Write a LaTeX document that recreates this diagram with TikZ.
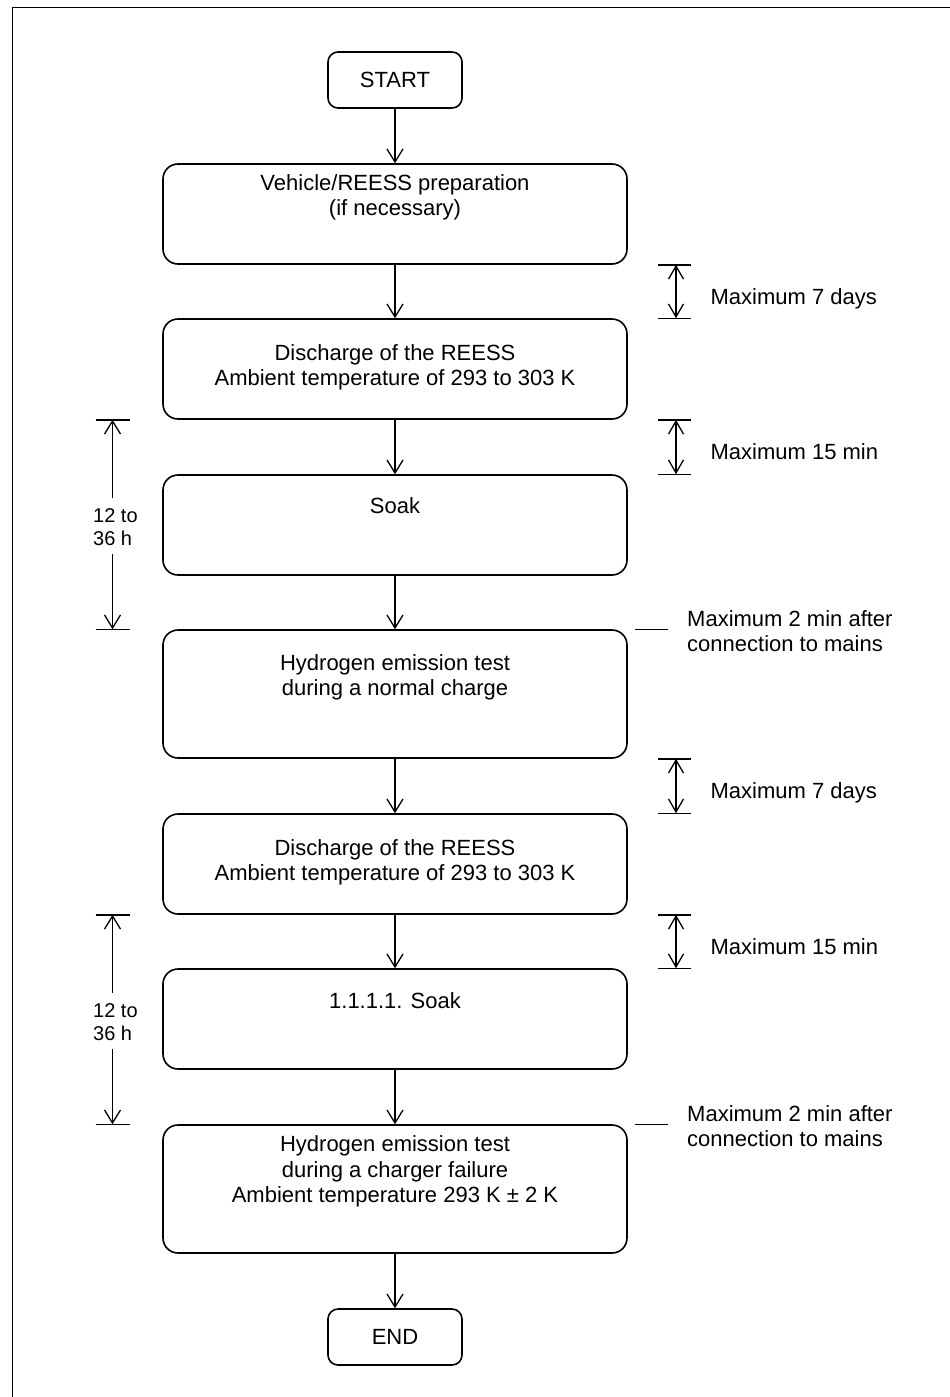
\documentclass[tikz,border=0pt]{standalone}
\usepackage{fontspec}
\setmainfont{Liberation Sans}
\usetikzlibrary{arrows.meta}

\begin{document}
\begin{tikzpicture}[x=1pt,y=-1pt,
    every node/.style={font=\fontsize{22}{25.5}\selectfont},
    box/.style={draw,line width=1.6pt,rounded corners=15pt,minimum width=464pt,minimum height=100pt,inner sep=0pt},
    endbox/.style={box,minimum width=134pt,minimum height=56pt,rounded corners=10pt},
    txt/.style={anchor=north,align=center,inner sep=0pt},
    flow/.style={-{Straight Barb[length=13pt,width=16pt]},line width=1.3pt},
    dim/.style={{Straight Barb[length=13pt,width=15pt]}-{Straight Barb[length=13pt,width=15pt]},line width=1.3pt},
    tick/.style={line width=1.4pt}]
          \useasboundingbox (0,0) rectangle (950,1397);
          \draw[line width=1.6pt] (12.5,7.5) rectangle (990,1430);
          \node[endbox] (start) at (395,80) {START};
          \node[box,label={[txt,yshift=-11pt]north:Vehicle/REESS preparation\\(if necessary)}] (prep) at (395,214) {};
          \node[box,label={[txt,yshift=-26pt]north:Discharge of the REESS\\Ambient temperature of 293 to 303 K}] (dis1) at (395,369) {};
          \node[box,label={[txt,yshift=-23pt]north:Soak}] (soak1) at (395,525) {};
          \node[box,minimum height=128pt,label={[txt,yshift=-25pt]north:Hydrogen emission test\\during a normal charge}] (hyd1) at (395,694) {};
          \node[box,label={[txt,yshift=-26pt]north:Discharge of the REESS\\Ambient temperature of 293 to 303 K}] (dis2) at (395,864) {};
          \node[box,label={[txt,yshift=-24.5pt]north:1.1.1.1. Soak}] (soak2) at (395,1019) {};
          \node[box,minimum height=128pt,label={[txt,yshift=-11.5pt]north:Hydrogen emission test\\during a charger failure\\Ambient temperature 293 K ± 2 K}] (hyd2) at (395,1189) {};
          \node[endbox] (end) at (395,1337) {END};
          \foreach \a/\b in {start/prep,prep/dis1,dis1/soak1,soak1/hyd1,hyd1/dis2,dis2/soak2,soak2/hyd2,hyd2/end}
            \draw[flow] (\a.south) -- (\b.north);
          \foreach \a/\b/\t/\n in {prep/dis1/Maximum 7 days/1,dis1/soak1/Maximum 15 min/2,hyd1/dis2/Maximum 7 days/3,dis2/soak2/Maximum 15 min/4}{
            \coordinate (rt\n) at (676,0 |- \a.south);
            \coordinate (rb\n) at (676,0 |- \b.north);
            \draw[tick] (658,0 |- rt\n) -- (691,0 |- rt\n) (658,0 |- rb\n) -- (691,0 |- rb\n);
            \draw[dim] (rt\n) -- node[anchor=base west,inner sep=0pt,xshift=34pt,yshift=-12.5pt] (rl\n) {\t} (rb\n);
          }
          \foreach \a/\n in {hyd1/1,hyd2/2}{
            \coordinate (ma\n) at (635,0 |- \a.north);
            \coordinate (mb\n) at (668,0 |- \a.north);
            \draw[tick] (ma\n) -- (mb\n);
            \node[anchor=north west,align=left,inner sep=0pt,yshift=19pt] (ml\n) at (687,0 |- \a.north) {Maximum 2 min after\\connection to mains};
          }
          \foreach \a/\b/\n in {dis1/hyd1/1,dis2/hyd2/2}{
            \coordinate (lt\n) at (112.5,0 |- \a.south);
            \coordinate (lb\n) at (112.5,0 |- \b.north);
            \draw[tick] (95.5,0 |- lt\n) -- (130,0 |- lt\n) (95.5,0 |- lb\n) -- (130,0 |- lb\n);
            \node[anchor=north west,align=left,inner sep=0pt,font=\fontsize{20}{23}\selectfont] (ll\n) at ([yshift=-89pt]93,0 |- lt\n) {12 to\\36 h};
            \coordinate (lu\n) at ([yshift=-78pt]lt\n);
            \coordinate (ld\n) at ([yshift=-134pt]lt\n);
            \draw[flow] (lu\n) -- (lt\n);
            \draw[flow] (ld\n) -- (lb\n);
          }
        \end{tikzpicture}
\end{document}
